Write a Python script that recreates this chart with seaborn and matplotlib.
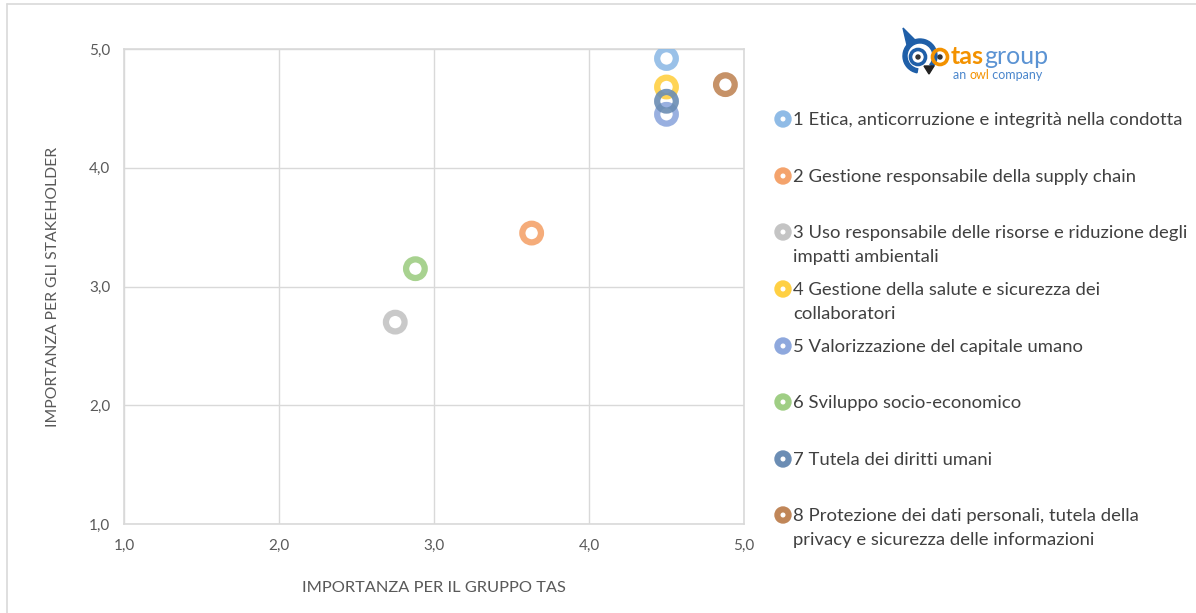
import matplotlib
matplotlib.use("Agg")
import matplotlib.pyplot as plt
from matplotlib.patches import Circle, Wedge, Polygon
from matplotlib.ticker import FuncFormatter
import seaborn as sns
import pandas as pd

# Material topics: importance for the TAS group (x) and for the stakeholders (y)
topics = [
    "1 Etica, anticorruzione e integrità nella condotta",
    "2 Gestione responsabile della supply chain",
    "3 Uso responsabile delle risorse e riduzione degli\nimpatti ambientali",
    "4 Gestione della salute e sicurezza dei\ncollaboratori",
    "5 Valorizzazione del capitale umano",
    "6 Sviluppo socio-economico",
    "7 Tutela dei diritti umani",
    "8 Protezione dei dati personali, tutela della\nprivacy e sicurezza delle informazioni",
]
importanza_gruppo = [4.50, 3.63, 2.75, 4.50, 4.50, 2.88, 4.50, 4.88]
importanza_stakeholder = [4.92, 3.45, 2.70, 4.68, 4.45, 3.15, 4.56, 4.70]
colori = ["#8fbbe6", "#f4a36c", "#c4c4c4", "#ffd043",
          "#8ea8dd", "#9fce84", "#6b8db4", "#c08658"]
tick_values = [1.0, 2.0, 3.0, 4.0, 5.0]

df = pd.DataFrame({"topic": topics, "gruppo": importanza_gruppo,
                   "stakeholder": importanza_stakeholder})

sns.set_theme(style="white")
plt.rcParams["font.family"] = ["Lato", "DejaVu Sans"]

W, H = 1196, 613
fig = plt.figure(figsize=(W / 100, H / 100), dpi=100)
fig.patch.set_facecolor("white")

ax = fig.add_axes([124 / W, 1 - 524 / H, (744 - 124) / W, (524 - 49) / H])

for (_, row), c in zip(df.iterrows(), colori):
    sns.scatterplot(x=[row["gruppo"]], y=[row["stakeholder"]], ax=ax,
                    s=180, marker="o", facecolors="none", edgecolor=c,
                    linewidth=4.5, alpha=0.9, zorder=3)

ax.set_xlim(1, 5)
ax.set_ylim(1, 5)
ax.set_xticks(tick_values)
ax.set_yticks(tick_values)
fmt = FuncFormatter(lambda v, _: f"{v:.1f}".replace(".", ","))
ax.xaxis.set_major_formatter(fmt)
ax.yaxis.set_major_formatter(fmt)
ax.grid(True, color="#d9d9d9", linewidth=1)
ax.set_axisbelow(True)
for sp in ax.spines.values():
    sp.set_color("#d9d9d9")
    sp.set_linewidth(1.2)
ax.tick_params(axis="both", length=0, labelsize=11, colors="#595959")
ax.tick_params(axis="x", pad=11)
ax.tick_params(axis="y", pad=10)
ax.set_xlabel("IMPORTANZA PER IL GRUPPO TAS", fontsize=11.8, color="#595959",
              labelpad=20)
ax.set_ylabel("IMPORTANZA PER GLI STAKEHOLDER", fontsize=11.3, color="#595959",
              labelpad=21)

# overlay in pixel coordinates for frame, legend and logo
ov = fig.add_axes([0, 0, 1, 1], zorder=5)
ov.set_xlim(0, W)
ov.set_ylim(H, 0)
ov.axis("off")
ov.patch.set_alpha(0)

# outer frame
ov.plot([7, 7], [4, H], color="#d9d9d9", lw=1.2)
ov.plot([7, W], [4, 4], color="#d9d9d9", lw=1.2)

# legend: swatch next to the first line of each entry, wrapped lines below
legend_y = [119, 176, 232, 289, 346, 402, 459, 515]
line_step = 24
for t, c, yy in zip(topics, colori, legend_y):
    ov.add_patch(Circle((783, yy), 8, color=c, zorder=6))
    ov.add_patch(Circle((783, yy), 1.8, color="white", zorder=7))
    for k, line in enumerate(t.split("\n")):
        ov.text(793, yy + 6 + k * line_step, line, fontsize=13.3,
                color="#404040", va="baseline", ha="left")

# logo
blue = "#1f5fa8"
orange = "#f39200"
ov.add_patch(Wedge((920, 56), 17, 100, 400, width=4, color=blue))
ov.add_patch(Polygon([[907, 45], [903, 28], [915, 40]], closed=True, color=blue))
ov.add_patch(Circle((918, 57), 7.5, fill=False, ec=blue, lw=2.6))
ov.add_patch(Circle((918, 57), 2.0, color="#333333"))
ov.add_patch(Circle((940, 57), 7.5, fill=False, ec=orange, lw=2.6))
ov.add_patch(Circle((940, 57), 2.0, color="#333333"))
ov.add_patch(Polygon([[924, 66], [934, 66], [929, 74]], closed=True, color="#222222"))
t_tas = ov.text(951, 64, "tas", fontsize=18, fontweight="bold", color=orange,
                va="baseline", ha="left")
ov.annotate("group", xy=(1, 0), xycoords=t_tas, fontsize=18,
            color="#5b93d3", va="bottom", ha="left")
t_an = ov.text(953, 79, "an ", fontsize=9, color="#4a86cc",
               va="baseline", ha="left")
t_owl = ov.annotate("owl", xy=(1, 0), xycoords=t_an, fontsize=9,
                    color=orange, va="bottom", ha="left")
ov.annotate(" company", xy=(1, 0), xycoords=t_owl, fontsize=9,
            color="#4a86cc", va="bottom", ha="left")

fig.savefig("out.png", dpi=100)
